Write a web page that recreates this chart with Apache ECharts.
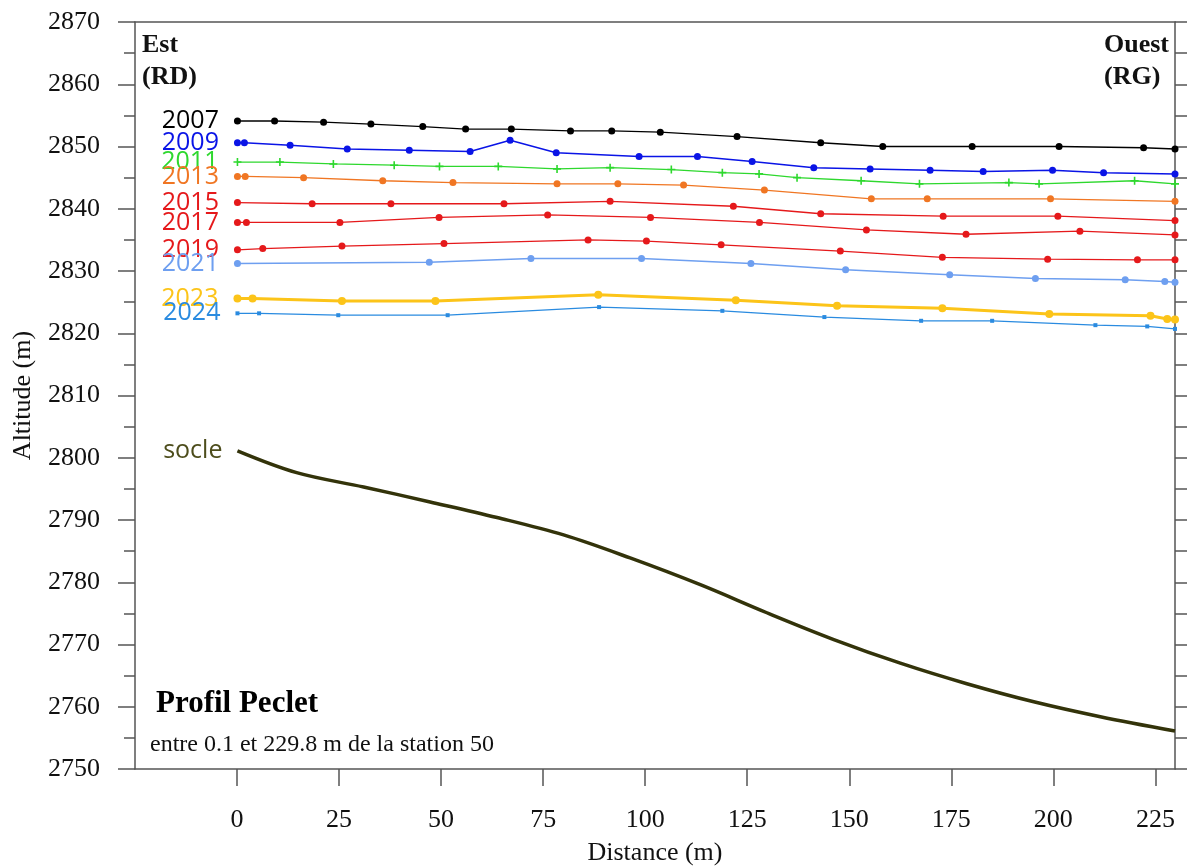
<!DOCTYPE html>
<html>
<head>
<meta charset="utf-8">
<script src="https://cdn.jsdelivr.net/npm/echarts@6/dist/echarts.min.js"></script>
<style>html,body{margin:0;padding:0;background:#fff;}#chart{width:1196px;height:866px;}</style>
</head>
<body>
<div id="chart"></div>
<script>
// ---- Data ----
const xTickValues = [0, 25, 50, 75, 100, 125, 150, 175, 200, 225];
const yRange = [2750, 2870];

const years = ['2007', '2009', '2011', '2013', '2015', '2017', '2019', '2021', '2023', '2024'];

const x2007 = [0.1, 9.2, 21.2, 32.8, 45.5, 56.0, 67.2, 81.7, 91.8, 103.7, 122.5, 143.0, 158.2, 180.1, 201.4, 222.1, 229.8];
const y2007 = [2854.1, 2854.1, 2853.9, 2853.6, 2853.2, 2852.8, 2852.8, 2852.5, 2852.5, 2852.3, 2851.6, 2850.6, 2850.0, 2850.0, 2850.0, 2849.8, 2849.6];

const x2009 = [0.1, 1.8, 13.0, 27.0, 42.2, 57.1, 66.9, 78.2, 98.5, 112.8, 126.2, 141.3, 155.1, 169.8, 182.8, 199.8, 212.3, 229.8];
const y2009 = [2850.6, 2850.6, 2850.2, 2849.6, 2849.4, 2849.2, 2851.0, 2849.0, 2848.4, 2848.4, 2847.6, 2846.6, 2846.4, 2846.2, 2846.0, 2846.2, 2845.8, 2845.6];

const x2011 = [0.1, 10.5, 23.6, 38.5, 49.6, 64.0, 78.4, 91.4, 106.4, 118.9, 127.9, 137.2, 152.9, 167.2, 189.1, 196.5, 219.9, 229.8];
const y2011 = [2847.5, 2847.5, 2847.2, 2847.0, 2846.8, 2846.8, 2846.4, 2846.6, 2846.3, 2845.8, 2845.6, 2845.0, 2844.5, 2844.0, 2844.2, 2844.0, 2844.5, 2844.0];

const x2013 = [0.1, 2.0, 16.3, 35.7, 52.9, 78.4, 93.3, 109.4, 129.2, 155.4, 169.1, 199.3, 229.8];
const y2013 = [2845.2, 2845.2, 2845.0, 2844.5, 2844.2, 2844.0, 2844.0, 2843.8, 2843.0, 2841.6, 2841.6, 2841.6, 2841.2];

const x2015 = [0.1, 18.4, 37.7, 65.4, 91.4, 121.6, 143.0, 173.0, 201.1, 229.8];
const y2015 = [2841.0, 2840.8, 2840.8, 2840.8, 2841.2, 2840.4, 2839.2, 2838.8, 2838.8, 2838.1];

const x2017 = [0.1, 2.3, 25.2, 49.5, 76.1, 101.3, 128.0, 154.2, 178.6, 206.5, 229.8];
const y2017 = [2837.8, 2837.8, 2837.8, 2838.6, 2839.0, 2838.6, 2837.8, 2836.6, 2835.9, 2836.4, 2835.8];

const x2019 = [0.1, 6.3, 25.7, 50.7, 86.0, 100.3, 118.6, 147.8, 172.8, 198.6, 220.6, 229.8];
const y2019 = [2833.4, 2833.6, 2834.0, 2834.4, 2835.0, 2834.8, 2834.2, 2833.2, 2832.2, 2831.9, 2831.8, 2831.8];

const x2021 = [0.1, 47.1, 72.0, 99.1, 125.9, 149.1, 174.6, 195.6, 217.6, 227.3, 229.8];
const y2021 = [2831.2, 2831.4, 2832.0, 2832.0, 2831.2, 2830.2, 2829.4, 2828.8, 2828.6, 2828.3, 2828.2];

const x2023 = [0.1, 3.8, 25.7, 48.6, 88.5, 122.2, 147.0, 172.8, 199.0, 223.8, 227.9, 229.8];
const y2023 = [2825.6, 2825.6, 2825.2, 2825.2, 2826.2, 2825.3, 2824.4, 2824.0, 2823.1, 2822.8, 2822.3, 2822.2];

const x2024 = [0.1, 5.4, 24.8, 51.6, 88.7, 118.9, 143.9, 167.6, 185.0, 210.3, 223.0, 229.8];
const y2024 = [2823.2, 2823.2, 2822.9, 2822.9, 2824.2, 2823.6, 2822.6, 2822.0, 2822.0, 2821.3, 2821.1, 2820.7];

const xSocle = [0.1, 14.6, 31.0, 47.3, 63.7, 80.0, 96.3, 113.5, 129.8, 146.2, 162.5, 178.8, 195.2, 211.5, 229.8];
const ySocle = [2801.1, 2797.6, 2795.3, 2792.9, 2790.4, 2787.6, 2783.9, 2779.6, 2775.1, 2770.8, 2767.0, 2763.7, 2760.8, 2758.4, 2756.1];

// ---- Styles ----
const serif = 'Liberation Serif';
const sans = 'Open Sans';
const yearStyles = {
  '2007': {color: '#000000', width: 1.3, symbol: 'circle', size: 7},
  '2009': {color: '#0a14e6', width: 1.5, symbol: 'circle', size: 7},
  '2011': {color: '#2ed82e', width: 1.3, symbol: 'path://M4,0h2v4h4v2h-4v4h-2v-4h-4v-2h4z', size: 8},
  '2013': {color: '#f07623', width: 1.3, symbol: 'circle', size: 7},
  '2015': {color: '#e5191b', width: 1.3, symbol: 'circle', size: 7},
  '2017': {color: '#e5191b', width: 1.3, symbol: 'circle', size: 7},
  '2019': {color: '#e5191b', width: 1.3, symbol: 'circle', size: 7},
  '2021': {color: '#6e9ff0', width: 1.5, symbol: 'circle', size: 7},
  '2023': {color: '#fcc419', width: 3, symbol: 'circle', size: 8},
  '2024': {color: '#2a8be0', width: 1.3, symbol: 'rect', size: 4}
};
const yearData = {
  '2007': [x2007, y2007], '2009': [x2009, y2009], '2011': [x2011, y2011], '2013': [x2013, y2013],
  '2015': [x2015, y2015], '2017': [x2017, y2017], '2019': [x2019, y2019], '2021': [x2021, y2021],
  '2023': [x2023, y2023], '2024': [x2024, y2024]
};

function buildData(xs, ys, name, color) {
  return xs.map((x, i) => {
    const item = {value: [x, ys[i]]};
    if (i === 0) {
      item.label = {show: true, position: 'left', distance: 15, formatter: name,
        color: color, fontFamily: sans, fontSize: 25};
    }
    return item;
  });
}

const series = years.map(y => {
  const st = yearStyles[y];
  return {
    name: y, type: 'line', xAxisIndex: 0, yAxisIndex: 0,
    data: buildData(yearData[y][0], yearData[y][1], y, st.color),
    symbol: st.symbol, symbolSize: st.size, showAllSymbol: true,
    lineStyle: {color: st.color, width: st.width},
    itemStyle: {color: st.color},
    label: {show: false},
    emphasis: {disabled: true},
    animation: false, z: 3
  };
});
series.push({
  name: 'socle', type: 'line', xAxisIndex: 0, yAxisIndex: 0,
  data: buildData(xSocle, ySocle, 'socle', '#4d4d1c'),
  symbol: 'circle', symbolSize: 0.01, showAllSymbol: true,
  smooth: 0.35,
  lineStyle: {color: '#33330a', width: 3.5},
  itemStyle: {color: '#33330a'},
  label: {show: false},
  emphasis: {disabled: true}, animation: false
});

const axisColor = '#555555';
const plainNum = v => String(v);
const chart = echarts.init(document.getElementById('chart'), null, {renderer: 'canvas'});
chart.setOption({
  backgroundColor: '#ffffff',
  animation: false,
  grid: {left: 135, right: 21, top: 22, bottom: 97, containLabel: false, outerBoundsMode: 'none'},
  xAxis: [{
    type: 'value', min: -25, max: 229.8, position: 'bottom',
    name: 'Distance (m)', nameLocation: 'middle', nameGap: 71,
    nameTextStyle: {fontFamily: serif, fontSize: 26, color: '#111'},
    axisLine: {show: true, lineStyle: {color: axisColor, width: 1.5}},
    axisTick: {show: true, inside: false, length: 17, customValues: xTickValues, lineStyle: {color: axisColor, width: 1.5}},
    axisLabel: {show: true, margin: 38, customValues: xTickValues, formatter: plainNum, fontFamily: serif, fontSize: 26, color: '#111'},
    splitLine: {show: false}
  }, {
    type: 'value', min: -25, max: 229.8, position: 'top',
    axisLine: {show: true, onZero: false, lineStyle: {color: axisColor, width: 1.5}},
    axisTick: {show: false}, axisLabel: {show: false}, splitLine: {show: false}
  }],
  yAxis: [{
    type: 'value', min: yRange[0], max: yRange[1], interval: 10, position: 'left',
    name: 'Altitude (m)', nameLocation: 'middle', nameGap: 99,
    nameTextStyle: {fontFamily: serif, fontSize: 26, color: '#111'},
    axisLine: {show: true, onZero: false, lineStyle: {color: axisColor, width: 1.5}},
    axisTick: {show: true, inside: false, length: 17, lineStyle: {color: axisColor, width: 1.5}},
    minorTick: {show: true, splitNumber: 2, length: 11, lineStyle: {color: axisColor, width: 1.5}},
    axisLabel: {show: true, margin: 35, formatter: plainNum, fontFamily: serif, fontSize: 26, color: '#111'},
    splitLine: {show: false}
  }, {
    type: 'value', min: yRange[0], max: yRange[1], interval: 5, position: 'right',
    axisLine: {show: true, onZero: false, lineStyle: {color: axisColor, width: 1.5}},
    axisTick: {show: true, inside: false, length: 12, lineStyle: {color: axisColor, width: 1.5}},
    axisLabel: {show: false}, splitLine: {show: false}
  }],
  graphic: [
    {type: 'text', left: 142, top: 29, style: {text: 'Est\n(RD)', font: 'bold 26px "Liberation Serif"', fill: '#111', lineHeight: 32}},
    {type: 'text', left: 1104, top: 29, style: {text: 'Ouest\n(RG)', font: 'bold 26px "Liberation Serif"', fill: '#111', lineHeight: 32}},
    {type: 'text', left: 156, top: 688, style: {text: 'Profil Peclet', font: 'bold 31px "Liberation Serif"', fill: '#000'}},
    {type: 'text', left: 150, top: 733, style: {text: 'entre 0.1 et 229.8 m de la station 50', font: '24px "Liberation Serif"', fill: '#111'}}
  ],
  series: series
});
</script>
</body>
</html>
